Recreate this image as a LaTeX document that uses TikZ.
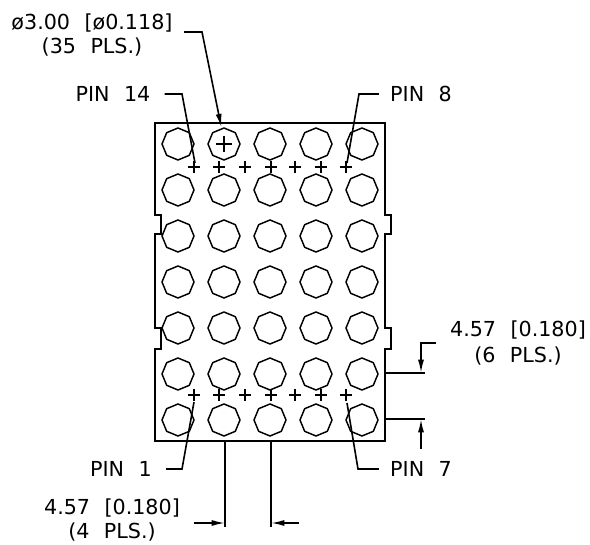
\documentclass[tikz,border=0pt]{standalone}
\usepackage{fontspec}
\setmainfont[WordSpace=2.2]{DejaVu Sans}
\usetikzlibrary{arrows.meta,shapes.geometric}
\tikzset{
    contorno/.style={line width=1.4pt},
    linea/.style={line width=1.2pt},
    flecha/.style={linea,-{Latex[length=10pt,width=4.5pt]}},
    agujero/.style={regular polygon,regular polygon sides=8,shape border rotate=22.5,draw,line width=1.1pt,minimum size=32*0.75pt,inner sep=0pt},
    rotulo/.style={inner sep=0pt,align=center,font=\fontsize{15.5}{18.5}\selectfont},
    rotulocota/.style={rotulo,font=\fontsize{15.5}{19.5}\selectfont}
}
\begin{document}
\begin{tikzpicture}[x=0.75pt,y=-0.75pt]
    \useasboundingbox (0,0) rectangle (590,545);

    % Dibuja el contorno
    \draw[contorno] (155,123) -- (385,123) -- (385,215) -- (391,215) -- (391,234) -- (385,234)
        -- (385,328) -- (391,328) -- (391,349) -- (385,349) -- (385,441) -- (155,441)
        -- (155,349) -- (161,349) -- (161,328) -- (155,328) -- (155,234) -- (161,234)
        -- (161,215) -- (155,215) -- cycle;

    % Dibuja los agujeros
    \foreach \fila [count=\j] in {144,190,236,282,328,374,420}
        \foreach \col [count=\i] in {178,224,270,316,362}
            \node[agujero] (a\j\i) at (\col,\fila) {};
    \draw[linea] (216,144) -- (232,144) (224,136) -- (224,152);

    % Dibuja las cruces
    \foreach \x in {194,219,245,271,295,321,346} {
        \draw[linea] (\x-6,167) -- (\x+6,167) (\x,161) -- (\x,173);
        \draw[linea] (\x-6,395) -- (\x+6,395) (\x,389) -- (\x,401);
    }

    % Dibuja los rotulos
    \node[rotulo] (diametro) at (92,35) {ø3.00 [ø0.118]\\(35 PLS.)};
    \node[rotulo] (pin14) at (113,94) {PIN 14};
    \node[rotulo] (pin8) at (421,94) {PIN 8};
    \node[rotulo] (pin1) at (121,469) {PIN 1};
    \node[rotulo] (pin7) at (421,469) {PIN 7};
    \node[rotulocota] (cota6) at (518,343) {4.57 [0.180]\\(6 PLS.)};
    \node[rotulo] (cota4) at (112,520) {4.57 [0.180]\\(4 PLS.)};

    % Dibuja las lineas de llamada
    \draw[flecha] (184,32) -- (202,32) -- ([xshift=-2pt]a12.north);
    \draw[linea] (pin14.east) ++(14,0) -- (182,94) -- (195,163);
    \draw[linea] (pin8.west) ++(-11,0) -- (359,94) -- (347,163);
    \draw[linea] (pin1.east) ++(14,0) -- (182,469) -- (194,402);
    \draw[linea] (pin7.west) ++(-11,0) -- (358,469) -- (347,403);

    % Dibuja las cotas
    \draw[linea] (385,373) -- (425,373);
    \draw[linea] (385,419) -- (425,419);
    \draw[flecha] (436,343) -- (421,343) -- (421,373);
    \draw[flecha] (421,449) -- (421,419);
    \draw[linea] (225,441) -- (225,527);
    \draw[linea] (271,441) -- (271,527);
    \draw[flecha] (194,523) -- (225,523);
    \draw[flecha] (299,523) -- (271,523);
\end{tikzpicture}
\end{document}
